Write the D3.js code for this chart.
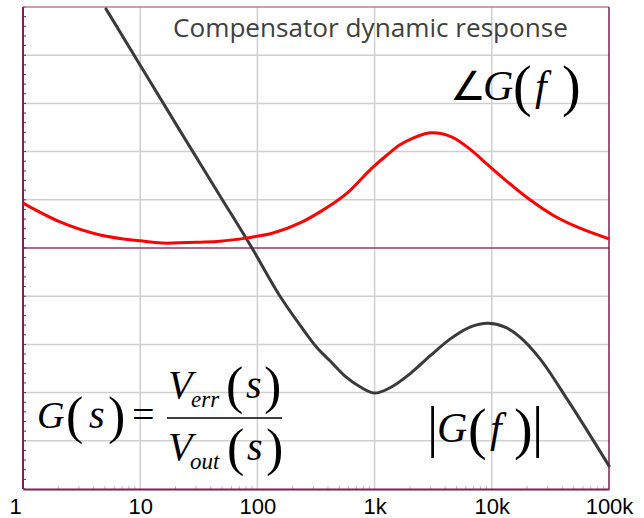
<!DOCTYPE html>
<html>
<head>
<meta charset="utf-8">
<script src="https://cdn.jsdelivr.net/npm/d3@7"></script>
<style>
  body { margin: 0; background: #fff; }
  svg { display: block; }
</style>
</head>
<body>
<svg id="chart" width="644" height="518"></svg>
<script>
// Frequency ticks (Hz) and their labels.
var tickFreqs = [1, 10, 100, 1000, 10000, 100000];
var tickLabels = ['1', '10', '100', '1k', '10k', '100k'];

// Magnitude |G(f)| (grid units, 10 per division).
var gainFreq = [5.11, 10, 21.9, 48, 89.9, 156, 231, 323, 416, 559, 751, 1008, 1353, 2004, 2970, 4400, 6520, 9290, 12970, 17400, 25800, 43800, 100000];
var gainVal  = [49.6, 37.9, 24.3, 10.8, 0, -10.0, -16.0, -20.7, -23.4, -26.6, -28.8, -30.1, -29.0, -26.1, -22.4, -18.9, -16.4, -15.6, -16.4, -18.5, -23.0, -31.3, -45.2];

// Phase angle G(f), same units.
var phaseFreq = [1, 2.07, 4.54, 9.96, 16.9, 32.4, 48, 81.5, 136, 231, 342, 582, 969, 1277, 1648, 2127, 3090, 4575, 6520, 9100, 12470, 21200, 33300, 56600, 100000];
var phaseVal  = [9.3, 5.4, 2.7, 1.5, 1.0, 1.2, 1.4, 2.1, 3.1, 5.2, 7.5, 11.4, 16.8, 19.3, 21.4, 22.8, 23.9, 23.0, 20.5, 17.4, 14.5, 10.0, 6.8, 4.1, 1.9];

// Layout.
var kLeft = 23, kRight = 609, kTop = 7, kBottom = 489;
var kAxisColor = '#7b2150';
var kGridColor = '#cfcfcf';
var kSerif = '"Liberation Serif", "Times New Roman", serif';

var svg = d3.select('#chart');

var x = d3.scaleLog().domain([1, 1e5]).range([kLeft, kRight]);
var y = d3.scaleLinear().domain([-50, 50]).range([kBottom, kTop]);

// Grid.
var grid = svg.append('g');
grid.selectAll('line.h')
  .data(d3.range(-40, 50, 10).filter(function(v) { return v != 0; }))
  .enter().append('line')
  .attr('x1', kLeft).attr('x2', kRight)
  .attr('y1', function(v) { return y(v); })
  .attr('y2', function(v) { return y(v); })
  .attr('stroke', kGridColor).attr('stroke-width', 1.5);
grid.selectAll('line.v')
  .data(tickFreqs.slice(1, -1))
  .enter().append('line')
  .attr('y1', kTop).attr('y2', kBottom)
  .attr('x1', function(f) { return x(f); })
  .attr('x2', function(f) { return x(f); })
  .attr('stroke', kGridColor).attr('stroke-width', 1.5);

// Zero line.
svg.append('line')
  .attr('x1', kLeft).attr('x2', kRight)
  .attr('y1', y(0)).attr('y2', y(0))
  .attr('stroke', '#8e3a6c').attr('stroke-width', 1.5);

// Minor ticks on the left axis (5 per division).
svg.append('g').selectAll('line')
  .data(d3.range(-50, 51, 2))
  .enter().append('line')
  .attr('x1', kLeft).attr('x2', kLeft + 3)
  .attr('y1', function(v) { return y(v); })
  .attr('y2', function(v) { return y(v); })
  .attr('stroke', kAxisColor).attr('stroke-width', 1);

// Minor ticks on the bottom axis (2..9 of each decade).
var minor = [];
tickFreqs.slice(0, -1).forEach(function(d) {
  for (var k = 2; k <= 9; ++k)
    minor.push(d * k);
});
svg.append('g').selectAll('line')
  .data(minor)
  .enter().append('line')
  .attr('x1', function(f) { return x(f); })
  .attr('x2', function(f) { return x(f); })
  .attr('y1', kBottom).attr('y2', kBottom - 3)
  .attr('stroke', '#c4b0bc').attr('stroke-width', 1);

// Frame.
svg.append('line')
  .attr('x1', kLeft).attr('x2', kRight).attr('y1', kTop).attr('y2', kTop)
  .attr('stroke', '#c27a9c').attr('stroke-width', 1.5);
svg.append('line')
  .attr('x1', kRight).attr('x2', kRight).attr('y1', kTop).attr('y2', kBottom)
  .attr('stroke', kAxisColor).attr('stroke-width', 1.5);
svg.append('line')
  .attr('x1', kLeft).attr('x2', kLeft).attr('y1', kTop).attr('y2', kBottom)
  .attr('stroke', kAxisColor).attr('stroke-width', 2);

// Bottom axis.
var xAxis = d3.axisBottom(x)
  .tickValues(tickFreqs)
  .tickFormat(function(d, i) { return tickLabels[i]; })
  .tickSize(0)
  .tickPadding(8);
var axisG = svg.append('g')
  .attr('transform', 'translate(0,' + kBottom + ')')
  .call(xAxis);
axisG.select('.domain')
  .attr('stroke', kAxisColor).attr('stroke-width', 2);
axisG.selectAll('text')
  .attr('font-family', '"Liberation Sans", Arial, sans-serif')
  .attr('font-size', 22)
  .attr('fill', '#000')
  .attr('dy', '0.78em')
  .attr('dx', function(d, i) { return i == 0 ? -8 : 0; });

// Curves: y as a smooth function of x, so uneven point spacing does not bend them.
var line = d3.line()
  .x(function(d) { return x(d[0]); })
  .y(function(d) { return y(d[1]); })
  .curve(d3.curveMonotoneX);

svg.append('path')
  .datum(d3.zip(gainFreq, gainVal))
  .attr('d', line)
  .attr('fill', 'none')
  .attr('stroke', '#3a3a3a')
  .attr('stroke-width', 3)
  .attr('stroke-linecap', 'round')
  .attr('stroke-linejoin', 'round');

svg.append('path')
  .datum(d3.zip(phaseFreq, phaseVal))
  .attr('d', line)
  .attr('fill', 'none')
  .attr('stroke', '#ff0000')
  .attr('stroke-width', 3)
  .attr('stroke-linejoin', 'round');

// Title.
svg.append('text')
  .attr('x', 173).attr('y', 37)
  .attr('font-family', '"Open Sans", sans-serif')
  .attr('font-size', 25)
  .attr('fill', '#404040')
  .attr('textLength', 395)
  .attr('lengthAdjust', 'spacingAndGlyphs')
  .text('Compensator dynamic response');

// Math labels: each glyph placed separately like the equation editor does.
function Glyph(str, gx, gy, size, italic)
{
  return svg.append('text')
    .attr('x', gx).attr('y', gy)
    .attr('font-family', kSerif)
    .attr('font-size', size)
    .attr('font-style', italic ? 'italic' : 'normal')
    .attr('fill', '#000')
    .text(str);
}

// Angle of G(f).
Glyph('\u2220', 450, 100, 40, false);
Glyph('G', 483, 100, 42, true);
Glyph('(', 513, 105, 56, false);
Glyph('f', 535, 100, 42, true);
Glyph(')', 562, 105, 56, false);

// G(s) = Verr(s) / Vout(s)
Glyph('G', 37, 428, 38, true);
Glyph('(', 66, 433, 52, false);
Glyph('s', 89, 428, 40, true);
Glyph(')', 108, 433, 52, false);
Glyph('=', 132, 428, 40, false);
svg.append('line')
  .attr('x1', 167).attr('x2', 282).attr('y1', 418).attr('y2', 418)
  .attr('stroke', '#000').attr('stroke-width', 1.5);
Glyph('V', 168, 398, 40, true);
Glyph('err', 191, 407, 23, true);
Glyph('(', 226, 403, 52, false);
Glyph('s', 246, 398, 40, true);
Glyph(')', 264, 403, 52, false);
Glyph('V', 168, 460, 40, true);
Glyph('out', 190, 469, 23, true);
Glyph('(', 227, 465, 52, false);
Glyph('s', 247, 460, 40, true);
Glyph(')', 266, 465, 52, false);

// |G(f)|
Glyph('|', 427, 446, 56, false);
Glyph('G', 437, 442, 42, true);
Glyph('(', 468, 448, 56, false);
Glyph('f', 490, 442, 42, true);
Glyph(')', 514, 448, 56, false);
Glyph('|', 532, 446, 56, false);
</script>
</body>
</html>
